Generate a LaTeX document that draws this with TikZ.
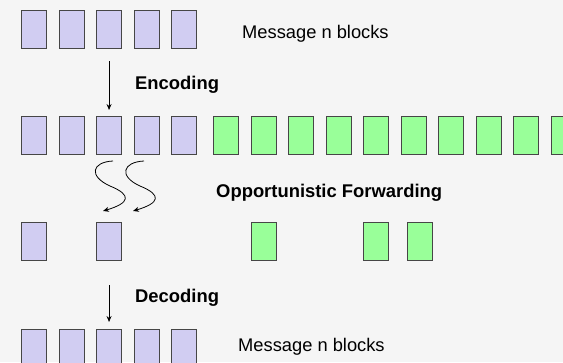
\documentclass[tikz,border=0pt]{standalone}
\usepackage{fontspec}
\setmainfont{Liberation Sans}
\usetikzlibrary{arrows.meta}
\definecolor{bgc}{RGB}{245,245,245}
\definecolor{pblk}{RGB}{209,205,242}
\definecolor{gblk}{RGB}{153,255,153}
\definecolor{bord}{RGB}{70,70,70}
\tikzset{
  blk/.style={draw=bord, line width=1.1pt, minimum width=25pt, minimum height=38pt, inner sep=0pt, anchor=north west},
  pb/.style={blk, fill=pblk},
  gb/.style={blk, fill=gblk},
  lbl/.style={anchor=base west, inner sep=0pt, font=\fontsize{18.3}{21}\selectfont},
  blbl/.style={lbl, font=\fontsize{18.4}{21}\selectfont\bfseries},
  arr/.style={line width=0.8pt, -{Stealth[length=6pt,width=5pt]}},
  sq/.style={line width=0.8pt, -{Stealth[length=6pt,width=5pt]}}
}
\begin{document}
\begin{tikzpicture}[x=1pt,y=-1pt]
\fill[bgc] (0,0) rectangle (563,362);
\useasboundingbox (0,0) rectangle (563,362);
% row 1
\foreach \i in {1,...,5}{
  \node[pb] (a\i) at ({21+37.5*(\i-1)},10) {};
}
\node[lbl] (t1) at (242,38) {Message n blocks};
% row 2
\foreach \i in {1,...,5}{
  \node[pb] (b\i) at ({21+37.5*(\i-1)},116) {};
}
\foreach \i in {1,...,10}{
  \node[gb] (g\i) at ({213.3+37.5*(\i-1)},116) {};
}
% row 3
\node[pb] (c1) at (21,222) {};
\node[pb] (c3) at (96,222) {};
\node[gb] (c7) at (251,222) {};
\node[gb] (c10) at (363.3,222) {};
\node[gb] (c11) at (407.3,222) {};
% row 4
\foreach \i in {1,...,5}{
  \node[pb] (d\i) at ({21+37.5*(\i-1)},329) {};
}
\node[lbl] (t4) at (238,351) {Message n blocks};
% labels
\node[blbl] (enc) at (135,89) {Encoding};
\node[blbl] (opp) at (216,197) {Opportunistic Forwarding};
\node[blbl] (dec) at (135,302) {Decoding};
% arrows
\draw[arr, shorten <=12pt, shorten >=6pt] (a3.south) -- (b3.north);
\draw[arr, shorten <=24pt, shorten >=7pt] (c3.south) -- (d3.north);
% squiggles
\coordinate (s1) at (113,161);
\coordinate (m1) at (110,186);
\coordinate (e1) at (103,211);
\coordinate (s2) at (144,161);
\coordinate (m2) at (140,186);
\coordinate (e2) at (133,211);
\draw[sq] (s1) .. controls (92,162) and (88,176) .. (m1) .. controls (132,195) and (130,203) .. (e1);
\draw[sq] (s2) .. controls (123,162) and (118,176) .. (m2) .. controls (162,195) and (160,203) .. (e2);
\end{tikzpicture}
\end{document}
